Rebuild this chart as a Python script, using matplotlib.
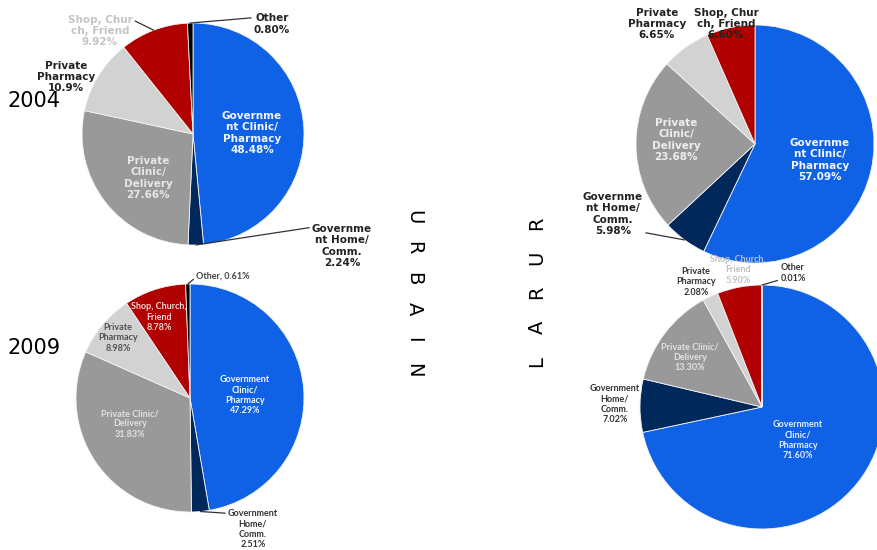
import matplotlib
matplotlib.use("Agg")
import matplotlib.pyplot as plt
import numpy as np

W, H = 878, 550

# Share of care sought, by source (percent)
categories = ["Government Clinic/Pharmacy", "Government Home/Comm.",
              "Private Clinic/Delivery", "Private Pharmacy",
              "Shop, Church, Friend", "Other"]
colors = ["#0F62E6", "#00285A", "#999999", "#D2D2D2", "#B00000", "#000000"]

urban_2004 = ["48.48", "2.24", "27.66", "10.9", "9.92", "0.80"]
urban_2009 = ["47.29", "2.51", "31.83", "8.98", "8.78", "0.61"]
rural_2004 = ["57.09", "5.98", "23.68", "6.65", "6.60"]
rural_2009 = ["71.60", "7.02", "13.30", "2.08", "5.90", "0.01"]

# Category names as wrapped on each chart ("|" joins name and value on one line)
names_2004 = ["Governme\nnt Clinic/\nPharmacy", "Governme\nnt Home/\nComm.",
              "Private\nClinic/\nDelivery", "Private\nPharmacy",
              "Shop, Chur\nch, Friend", "Other"]
names_urban_2009 = ["Government\nClinic/\nPharmacy", "Government\nHome/\nComm.",
                    "Private Clinic/\nDelivery", "Private\nPharmacy",
                    "Shop, Church,\nFriend", "Other,|"]
names_rural_2009 = names_urban_2009[:5] + ["Other"]

years = ["2004", "2009"]
areas = ["URBAIN", "RURAL"]

fig = plt.figure(figsize=(W / 100, H / 100), dpi=100)
ax = fig.add_axes([0, 0, 1, 1])


def py(y):
    return H - y


def draw_pie(vals, center, radius, names, label_pos, label_colors, font,
             leaders):
    values = [float(v) for v in vals]
    cx, cy = center
    ax.pie(values, colors=colors[:len(values)], startangle=90,
           counterclock=False, center=(cx, py(cy)), radius=radius,
           wedgeprops=dict(edgecolor="#f4f4f4", linewidth=0.6))
    total = sum(values)
    cum = np.cumsum([0] + values)
    for i, v in enumerate(vals):
        name = names[i]
        if name.endswith("|"):
            text = f"{name[:-1]} {v}%"
        else:
            text = f"{name}\n{v}%"
        lx, ly = label_pos[i]
        kw = dict(ha="center", va="center", color=label_colors[i],
                  linespacing=1.15, multialignment="center", zorder=5, **font)
        if i in leaders:
            mid = (cum[i] + cum[i + 1]) / 2 / total * 2 * np.pi
            rx = cx + radius * np.sin(mid)
            ry = py(cy) + radius * np.cos(mid)
            ax.annotate(text, xy=(rx, ry), xytext=(lx, py(ly)),
                        arrowprops=dict(arrowstyle="-", color="#333333",
                                        lw=0.9, relpos=leaders[i],
                                        shrinkA=0, shrinkB=0),
                        **kw)
        else:
            ax.text(lx, py(ly), text, **kw)


big = dict(family="DejaVu Sans", fontsize=7.5, fontweight="bold")
small = dict(family="Lato", fontsize=6.5, fontweight="bold")

# Urban 2004
draw_pie(urban_2004, (193, 134), 111, names_2004,
         [(252, 133), (342, 246), (148, 178), (66, 77), (100, 31), (272, 24)],
         ["#F2F6FF", "#222222", "#E6E6E6", "#222222", "#C4C4C4", "#222222"],
         big, {1: (0.0, 0.93), 4: (1.0, 0.85), 5: (0.0, 0.8)})

# Urban 2009
draw_pie(urban_2009, (190, 398), 114, names_urban_2009,
         [(245, 395), (253, 529), (130, 424), (118, 338), (159, 317), (223, 276)],
         ["#F2F6FF", "#333333", "#E2E2E2", "#505050", "#F4D6D6", "#444444"],
         small, {1: (0.0, 0.9), 5: (0.0, 0.4)})

# Rural 2004
draw_pie(rural_2004, (755, 144), 119, names_2004,
         [(820, 160), (613, 214), (676, 140), (657, 24), (726, 24)],
         ["#F2F6FF", "#222222", "#EEEEEE", "#222222", "#222222"],
         big, {1: (1.0, 0.08)})

# Rural 2009
draw_pie(rural_2009, (762, 407), 122, names_rural_2009,
         [(798, 440), (615, 404), (690, 357), (696, 282), (738, 270), (793, 273)],
         ["#E4ECFF", "#333333", "#E2E2E2", "#333333", "#C0C0C0", "#333333"],
         small, {5: (0.0, 0.15)})

# Year labels
ax.text(8, py(101), years[0], fontsize=15, ha="left", va="center", color="black")
ax.text(8, py(348), years[1], fontsize=15, ha="left", va="center", color="black")

# Vertical area labels, letters spaced out along the column
for k, ch in enumerate(areas[0]):
    y = 217 + k * (370 - 217) / (len(areas[0]) - 1)
    ax.text(414, py(y), ch, rotation=-90, fontsize=14, ha="center",
            va="center", color="black")
for k, ch in enumerate(areas[1][::-1]):
    y = 362 - k * (362 - 223) / (len(areas[1]) - 1)
    ax.text(537, py(y), ch, rotation=90, fontsize=14, ha="center",
            va="center", color="black")

ax.set_xlim(0, W)
ax.set_ylim(0, H)
ax.set_aspect("equal")
ax.axis("off")

fig.savefig("out.png", dpi=100, facecolor="white")
